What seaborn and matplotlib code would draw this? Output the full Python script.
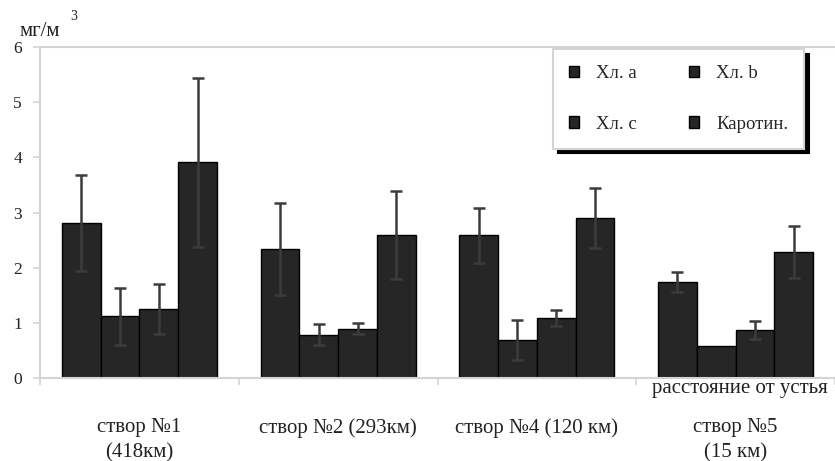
import numpy as np
import pandas as pd
import matplotlib
matplotlib.use("Agg")
import matplotlib.pyplot as plt
import seaborn as sns

# данные (мг/м3)
stations = ["створ №1\n(418км)", "створ №2 (293км)", "створ №4 (120 км)", "створ №5\n(15 км)"]
pigments = ["Хл. a", "Хл. b", "Хл. c", "Каротин."]

chl_a = [2.81, 2.34, 2.59, 1.74]
chl_b = [1.12, 0.78, 0.69, 0.58]
chl_c = [1.25, 0.89, 1.09, 0.87]
carot = [3.91, 2.59, 2.90, 2.28]

err_a = [0.87, 0.83, 0.50, 0.19]
err_b = [0.52, 0.19, 0.37, 0.0]
err_c = [0.45, 0.10, 0.14, 0.17]
err_carot = [1.53, 0.80, 0.55, 0.47]

values = [chl_a, chl_b, chl_c, carot]
errors = [err_a, err_b, err_c, err_carot]

rows = []
for p, vals in zip(pigments, values):
    for s, v in zip(stations, vals):
        rows.append({"station": s, "pigment": p, "value": v})
df = pd.DataFrame(rows)

sns.set_theme(style="white")
plt.rcParams['font.family'] = ['Liberation Serif', 'DejaVu Serif']

fig = plt.figure(figsize=(8.35, 4.61), dpi=100)
ax = fig.add_axes([40 / 835, 1 - 378 / 461, 1 - 40 / 835, (378 - 47) / 461])

bar_color = "#262626"
sns.barplot(data=df, x="station", y="value", hue="pigment", order=stations,
            hue_order=pigments, palette=[bar_color] * 4, width=0.78,
            edgecolor="black", linewidth=1.0, errorbar=None, saturation=1,
            ax=ax)

# планки погрешностей по центрам столбиков
for cont, err in zip(ax.containers, errors):
    for bar, e in zip(cont, err):
        if e <= 0:
            continue
        x = bar.get_x() + bar.get_width() / 2
        ax.errorbar(x, bar.get_height(), yerr=e, fmt="none", ecolor="#3c3c3c",
                    elinewidth=1.8, capsize=4.5, capthick=1.8, zorder=5)

ax.set_xlim(-0.5, 3.5)
ax.set_ylim(0, 6)
ax.set_yticks(range(0, 7))
ax.set_xlabel("")
ax.set_ylabel("")

axis_gray = "#d4d4d4"
for side in ["left", "bottom", "top"]:
    ax.spines[side].set_visible(True)
    ax.spines[side].set_color(axis_gray)
    ax.spines[side].set_linewidth(1.5)
ax.spines["right"].set_visible(False)

ax.tick_params(axis="y", which="major", left=True, length=5, width=1.2,
               color=axis_gray, pad=8, labelsize=12.5, labelcolor="#222222")
ax.set_xticks([-0.5, 0.5, 1.5, 2.5, 3.5], minor=True)
ax.tick_params(axis="x", which="minor", bottom=True, length=5, width=1.2, color=axis_gray)
ax.tick_params(axis="x", which="major", bottom=False, pad=23, labelsize=15,
               labelcolor="#222222")
for t in ax.get_xticklabels():
    t.set_linespacing(1.4)

# легенда: по строкам a, b / c, каротин
old = ax.get_legend()
handles = old.legend_handles
labels = [t.get_text() for t in old.get_texts()]
old.remove()
order = [0, 2, 1, 3]
leg = ax.legend(handles=[handles[i] for i in order], labels=[labels[i] for i in order],
                ncol=2, loc="upper left",
                bbox_to_anchor=(0.645, 0.994), borderaxespad=0, fontsize=13.5,
                frameon=True, fancybox=False, framealpha=1, edgecolor=axis_gray,
                handlelength=0.55, handleheight=0.55, handletextpad=0.9,
                labelspacing=1.8, columnspacing=2.8, borderpad=0.85,
                shadow={"ox": 3.5, "oy": -3.5, "facecolor": "black",
                        "edgecolor": "black", "alpha": 1})
leg.get_frame().set_linewidth(1.5)
for h in leg.legend_handles:
    h.set_edgecolor("black")
    h.set_facecolor(bar_color)

fig.text(20 / 835, 1 - 32 / 461, "мг/м", fontsize=15, color="#222222",
         ha="left", va="center")
fig.text(70 / 835, 1 - 17 / 461, "3", fontsize=10, color="#222222",
         ha="left", va="center")
fig.text(652 / 835, 1 - 388 / 461, "расстояние от устья", fontsize=15,
         color="#222222", ha="left", va="center")

fig.savefig("out.png", dpi=100)
